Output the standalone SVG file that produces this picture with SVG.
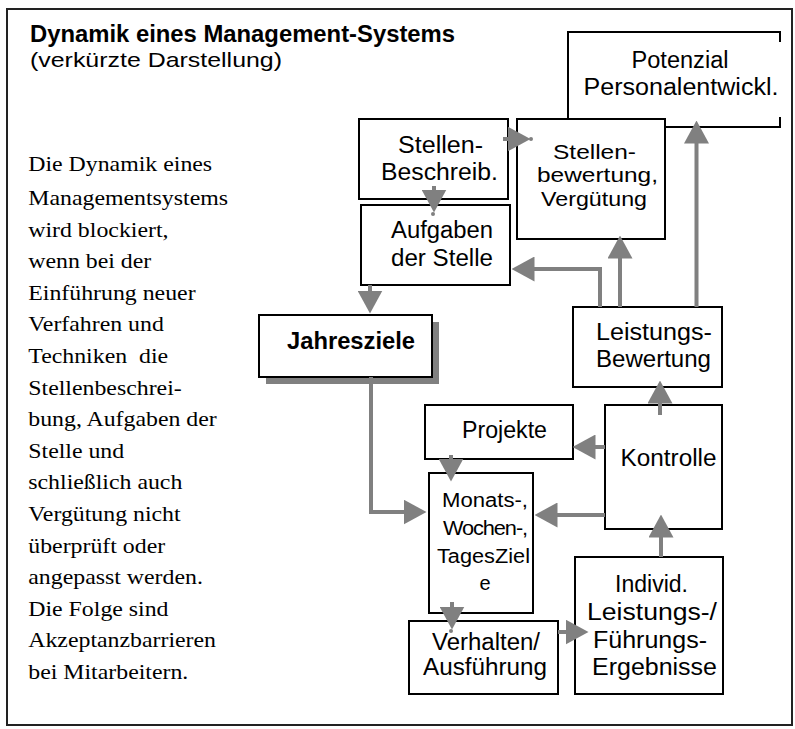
<svg xmlns="http://www.w3.org/2000/svg" width="795" height="729" viewBox="0 0 795 729">
<style>
.box{fill:#fff;stroke:#000;stroke-width:2}
.lbl{font-family:"Liberation Sans",Arial,sans-serif;font-size:23px;fill:#000;text-anchor:middle}
.md{font-size:21px}
.sm{font-size:20px}
.bold{font-weight:bold}
.para{font-family:"Liberation Serif","Times New Roman",serif;font-size:22px;fill:#000}
.conn{fill:none;stroke:#808080;stroke-width:4;marker-end:url(#ah)}
.dot{fill:#808080}
</style>
<defs>
<marker id="ah" viewBox="0 0 23 25" refX="0.5" refY="12.5" markerWidth="23" markerHeight="25" markerUnits="userSpaceOnUse" orient="auto">
<path d="M0,0 L23,12.5 L0,25 z" fill="#808080"/>
</marker>
</defs>
<rect width="795" height="729" fill="#fff"/>
<rect x="7" y="9" width="785" height="716" fill="none" stroke="#222" stroke-width="2"/>

<g id="title">
<text x="30" y="42" class="lbl bold" style="text-anchor:start" textLength="425" lengthAdjust="spacingAndGlyphs">Dynamik eines Management-Systems</text>
<text x="30" y="67" class="lbl md" style="text-anchor:start" textLength="252" lengthAdjust="spacingAndGlyphs">(verkürzte Darstellung)</text>
</g>

<g id="paragraph" transform="scale(1.083 1)">
<text class="para" x="26.1" y="171">Die Dynamik eines</text>
<text class="para" x="26.1" y="205">Managementsystems</text>
<text class="para" x="26.1" y="236.6">wird blockiert,</text>
<text class="para" x="26.1" y="268.2">wenn bei der</text>
<text class="para" x="26.1" y="299.8">Einführung neuer</text>
<text class="para" x="26.1" y="331.4">Verfahren und</text>
<text class="para" x="26.1" y="363">Techniken&#160; die</text>
<text class="para" x="26.1" y="394.6">Stellenbeschrei-</text>
<text class="para" x="26.1" y="426.2">bung, Aufgaben der</text>
<text class="para" x="26.1" y="457.8">Stelle und</text>
<text class="para" x="26.1" y="489.4">schließlich auch</text>
<text class="para" x="26.1" y="521">Vergütung nicht</text>
<text class="para" x="26.1" y="552.6">überprüft oder</text>
<text class="para" x="26.1" y="584.2">angepasst werden.</text>
<text class="para" x="26.1" y="615.8">Die Folge sind</text>
<text class="para" x="26.1" y="647.4">Akzeptanzbarrieren</text>
<text class="para" x="26.1" y="679">bei Mitarbeitern.</text>
</g>

<g id="potenzial">
<rect x="568" y="32" width="212" height="95" fill="#fff"/>
<path d="M780,42 L780,32 L568,32 L568,127 L780,127 L780,117" fill="none" stroke="#000" stroke-width="2"/>
<text class="lbl" x="680" y="68" textLength="97" lengthAdjust="spacingAndGlyphs">Potenzial</text>
<text class="lbl" x="681" y="95" textLength="195" lengthAdjust="spacingAndGlyphs">Personalentwickl.</text>
</g>

<g id="stellenbeschreib">
<rect class="box" x="359" y="119" width="149" height="80"/>
<text class="lbl" x="440.5" y="153" textLength="85" lengthAdjust="spacingAndGlyphs">Stellen-</text>
<text class="lbl" x="439.5" y="180" textLength="117" lengthAdjust="spacingAndGlyphs">Beschreib.</text>
</g>

<g id="stellenbewertung">
<rect class="box" x="517" y="119" width="148" height="120"/>
<text class="lbl md" x="594.5" y="159" textLength="83" lengthAdjust="spacingAndGlyphs">Stellen-</text>
<text class="lbl md" x="597.5" y="182" textLength="121" lengthAdjust="spacingAndGlyphs">bewertung,</text>
<text class="lbl md" x="594" y="206" textLength="106" lengthAdjust="spacingAndGlyphs">Vergütung</text>
</g>

<g id="aufgaben">
<rect class="box" x="361" y="205" width="149" height="80"/>
<text class="lbl" x="442" y="238" textLength="102" lengthAdjust="spacingAndGlyphs">Aufgaben</text>
<text class="lbl" x="442" y="266" textLength="102" lengthAdjust="spacingAndGlyphs">der Stelle</text>
</g>

<g id="jahresziele">
<rect x="266" y="322" width="173" height="62" fill="#808080"/>
<rect class="box" x="259" y="315" width="173" height="62"/>
<text class="lbl bold" x="351" y="349" textLength="128" lengthAdjust="spacingAndGlyphs">Jahresziele</text>
</g>

<g id="leistungsbewertung">
<rect class="box" x="573" y="307" width="149" height="80"/>
<text class="lbl" x="654" y="340" textLength="116" lengthAdjust="spacingAndGlyphs">Leistungs-</text>
<text class="lbl" x="653.5" y="367" textLength="115" lengthAdjust="spacingAndGlyphs">Bewertung</text>
</g>

<g id="projekte">
<rect class="box" x="425" y="405" width="148" height="54"/>
<text class="lbl" x="504.5" y="438" textLength="85" lengthAdjust="spacingAndGlyphs">Projekte</text>
</g>

<g id="kontrolle">
<rect class="box" x="605" y="405" width="117" height="124"/>
<text class="lbl" x="668.5" y="466" textLength="96" lengthAdjust="spacingAndGlyphs">Kontrolle</text>
</g>

<g id="monatsziele">
<rect class="box" x="429" y="473" width="104" height="140"/>
<text class="lbl sm" x="485" y="507" textLength="86" lengthAdjust="spacingAndGlyphs">Monats-,</text>
<text class="lbl sm" x="485" y="535" textLength="84" lengthAdjust="spacingAndGlyphs" style="letter-spacing:-1px">Wochen-,</text>
<text class="lbl sm" x="483.5" y="563" textLength="93" lengthAdjust="spacingAndGlyphs">TagesZiel</text>
<text class="lbl sm" x="485" y="590">e</text>
</g>

<g id="verhalten">
<rect class="box" x="409" y="621" width="149" height="73"/>
<text class="lbl" x="486" y="650" textLength="108" lengthAdjust="spacingAndGlyphs">Verhalten/</text>
<text class="lbl" x="485" y="675" textLength="124" lengthAdjust="spacingAndGlyphs">Ausführung</text>
</g>

<g id="individ">
<rect class="box" x="575" y="557" width="148" height="137"/>
<text class="lbl" x="651.5" y="592" textLength="73" lengthAdjust="spacingAndGlyphs">Individ.</text>
<text class="lbl" x="652" y="620" textLength="130" lengthAdjust="spacingAndGlyphs">Leistungs-/</text>
<text class="lbl" x="650" y="648" textLength="114" lengthAdjust="spacingAndGlyphs">Führungs-</text>
<text class="lbl" x="654.5" y="675" textLength="125" lengthAdjust="spacingAndGlyphs">Ergebnisse</text>
</g>

<g id="connectors">
<path class="conn" d="M503,139 L508,139"/>
<circle class="dot" cx="531" cy="139" r="2"/>
<path class="conn" d="M434,186 L434,190"/>
<circle class="dot" cx="433" cy="214" r="2"/>
<path class="conn" d="M370,285 L370,291"/>
<path class="conn" d="M371,377 L371,512 L404,512"/>
<path class="conn" d="M605,447 L595,447"/>
<path class="conn" d="M605,515 L557,515"/>
<path class="conn" d="M451,455 L451,459"/>
<path class="conn" d="M452,602 L452,607"/>
<circle class="dot" cx="451" cy="631" r="2"/>
<path class="conn" d="M558,632 L566,632"/>
<path class="conn" d="M661,557 L661,537"/>
<path class="conn" d="M660,415 L660,403"/>
<path class="conn" d="M600,307 L600,269 L534,269"/>
<path class="conn" d="M620,307 L620,258"/>
<path class="conn" d="M696.5,307 L696.5,143"/>
</g>
</svg>
